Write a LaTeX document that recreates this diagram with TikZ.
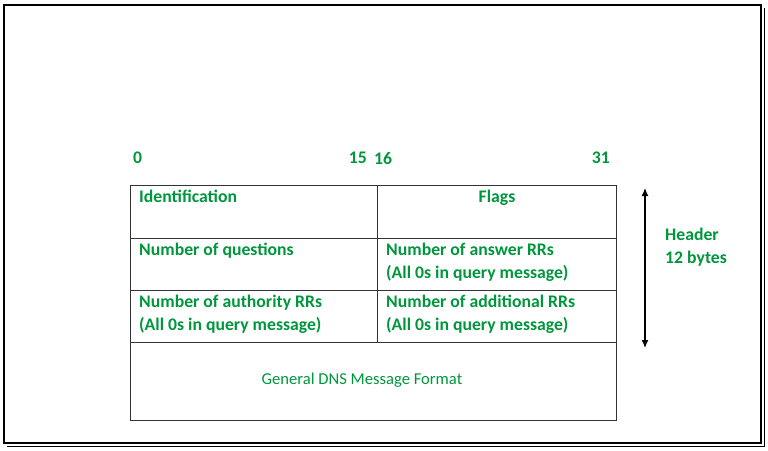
\documentclass[tikz,border=0pt]{standalone}
\usepackage{fontspec}
\usetikzlibrary{arrows.meta}
\setmainfont{Carlito}
\definecolor{gfg}{RGB}{0,150,60}
\begin{document}
\begin{tikzpicture}[x=1pt,y=-1pt,
  lbl/.style={text=gfg,font=\fontsize{17.7}{23}\selectfont\bfseries,anchor=north west,align=left,inner sep=0pt},
  cell/.style={draw=black!80,line width=0.8pt}]
\useasboundingbox (0,0) rectangle (768,450);
\draw[line width=2.5pt] (4,5) rectangle (761,443);
\draw[line width=1pt] (764,8) -- (764,446) -- (7,446);
\draw[cell] (130,185) rectangle (616,420);
\draw[cell] (130,238) -- (616,238);
\draw[cell] (130,290) -- (616,290);
\draw[cell] (130,342) -- (616,342);
\draw[cell] (377,185) -- (377,342);
\node[lbl] (n0) at (133,152) {0};
\node[lbl,anchor=north east] (n15) at (367,152) {15};
\node[lbl] (n16) at (374,152) {16};
\node[lbl,anchor=north east] (n31) at (610,152) {31};
\node[lbl] (id) at (139,190) {Identification};
\node[lbl,anchor=north] (fl) at (497,190) {Flags};
\node[lbl] (q) at (139,243) {Number of questions};
\node[lbl] (an) at (386,243) {Number of answer RRs\\(All 0s in query message)};
\node[lbl] (au) at (139,295) {Number of authority RRs\\(All 0s in query message)};
\node[lbl] (ad) at (386,295) {Number of additional RRs\\(All 0s in query message)};
\node[text=gfg,font=\fontsize{16.6}{20}\selectfont,inner sep=0pt] (gen) at (362,380) {General DNS Message Format};
\coordinate (at) at (645,188);
\coordinate (ab) at (645,348);
\draw[line width=1.2pt,{Latex[length=8pt,width=7pt]}-{Latex[length=8pt,width=7pt]}] (at) -- (ab);
\node[lbl] (hd) at (665,228) {Header\\12 bytes};
\end{tikzpicture}
\end{document}
